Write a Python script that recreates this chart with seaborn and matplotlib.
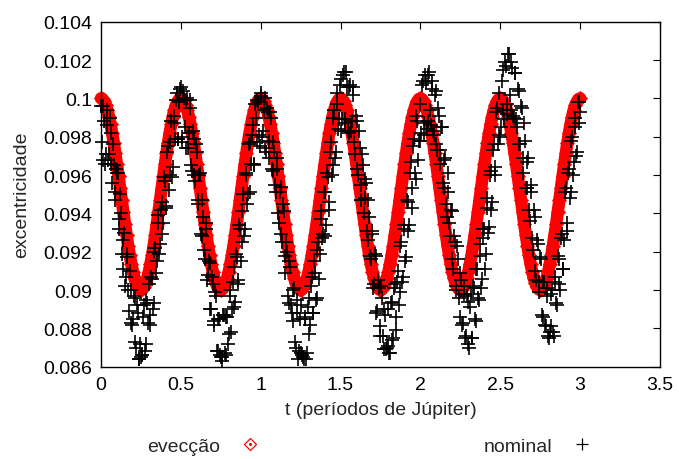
import numpy as np
import pandas as pd
import seaborn as sns
import matplotlib.pyplot as plt
from matplotlib.lines import Line2D
from matplotlib.legend_handler import HandlerTuple

# time axis, in Jupiter periods (one sample every 0.01)
t_start, t_end, n_samples = 0.0, 3.0, 301

# eccentricity with evection only (red diamonds)
eveccao = [
    0.10000, 0.09996, 0.09984, 0.09965, 0.09938, 0.09905, 0.09864, 0.09819, 0.09768, 0.09713,
    0.09655, 0.09594, 0.09531, 0.09469, 0.09406, 0.09345, 0.09287, 0.09232, 0.09181, 0.09136,
    0.09095, 0.09062, 0.09035, 0.09016, 0.09004, 0.09000, 0.09004, 0.09016, 0.09035, 0.09062,
    0.09095, 0.09136, 0.09181, 0.09232, 0.09287, 0.09345, 0.09406, 0.09469, 0.09531, 0.09594,
    0.09655, 0.09713, 0.09768, 0.09819, 0.09864, 0.09905, 0.09938, 0.09965, 0.09984, 0.09996,
    0.10000, 0.09996, 0.09984, 0.09965, 0.09938, 0.09905, 0.09864, 0.09819, 0.09768, 0.09713,
    0.09655, 0.09594, 0.09531, 0.09469, 0.09406, 0.09345, 0.09287, 0.09232, 0.09181, 0.09136,
    0.09095, 0.09062, 0.09035, 0.09016, 0.09004, 0.09000, 0.09004, 0.09016, 0.09035, 0.09062,
    0.09095, 0.09136, 0.09181, 0.09232, 0.09287, 0.09345, 0.09406, 0.09469, 0.09531, 0.09594,
    0.09655, 0.09713, 0.09768, 0.09819, 0.09864, 0.09905, 0.09938, 0.09965, 0.09984, 0.09996,
    0.10000, 0.09996, 0.09984, 0.09965, 0.09938, 0.09905, 0.09864, 0.09819, 0.09768, 0.09713,
    0.09655, 0.09594, 0.09531, 0.09469, 0.09406, 0.09345, 0.09287, 0.09232, 0.09181, 0.09136,
    0.09095, 0.09062, 0.09035, 0.09016, 0.09004, 0.09000, 0.09004, 0.09016, 0.09035, 0.09062,
    0.09095, 0.09136, 0.09181, 0.09232, 0.09287, 0.09345, 0.09406, 0.09469, 0.09531, 0.09594,
    0.09655, 0.09713, 0.09768, 0.09819, 0.09864, 0.09905, 0.09938, 0.09965, 0.09984, 0.09996,
    0.10000, 0.09996, 0.09984, 0.09965, 0.09938, 0.09905, 0.09864, 0.09819, 0.09768, 0.09713,
    0.09655, 0.09594, 0.09531, 0.09469, 0.09406, 0.09345, 0.09287, 0.09232, 0.09181, 0.09136,
    0.09095, 0.09062, 0.09035, 0.09016, 0.09004, 0.09000, 0.09004, 0.09016, 0.09035, 0.09062,
    0.09095, 0.09136, 0.09181, 0.09232, 0.09287, 0.09345, 0.09406, 0.09469, 0.09531, 0.09594,
    0.09655, 0.09713, 0.09768, 0.09819, 0.09864, 0.09905, 0.09938, 0.09965, 0.09984, 0.09996,
    0.10000, 0.09996, 0.09984, 0.09965, 0.09938, 0.09905, 0.09864, 0.09819, 0.09768, 0.09713,
    0.09655, 0.09594, 0.09531, 0.09469, 0.09406, 0.09345, 0.09287, 0.09232, 0.09181, 0.09136,
    0.09095, 0.09062, 0.09035, 0.09016, 0.09004, 0.09000, 0.09004, 0.09016, 0.09035, 0.09062,
    0.09095, 0.09136, 0.09181, 0.09232, 0.09287, 0.09345, 0.09406, 0.09469, 0.09531, 0.09594,
    0.09655, 0.09713, 0.09768, 0.09819, 0.09864, 0.09905, 0.09938, 0.09965, 0.09984, 0.09996,
    0.10000, 0.09996, 0.09984, 0.09965, 0.09938, 0.09905, 0.09864, 0.09819, 0.09768, 0.09713,
    0.09655, 0.09594, 0.09531, 0.09469, 0.09406, 0.09345, 0.09287, 0.09232, 0.09181, 0.09136,
    0.09095, 0.09062, 0.09035, 0.09016, 0.09004, 0.09000, 0.09004, 0.09016, 0.09035, 0.09062,
    0.09095, 0.09136, 0.09181, 0.09232, 0.09287, 0.09345, 0.09406, 0.09469, 0.09531, 0.09594,
    0.09655, 0.09713, 0.09768, 0.09819, 0.09864, 0.09905, 0.09938, 0.09965, 0.09984, 0.09996,
    0.10000,
]

# full (nominal) integration, black crosses, at t = 0.00, 0.01, ... 3.00
nominal = [
    0.0996, 0.0968, 0.0988, 0.0971, 0.0994, 0.0971, 0.0982, 0.0956, 0.0965, 0.0951,
    0.0961, 0.0937, 0.0950, 0.0919, 0.0926, 0.0902, 0.0917, 0.0900, 0.0910, 0.0883,
    0.0885, 0.0896, 0.0870, 0.0888, 0.0864, 0.0865, 0.0866, 0.0892, 0.0872, 0.0893,
    0.0903, 0.0887, 0.0906, 0.0893, 0.0922, 0.0915, 0.0939, 0.0924, 0.0946, 0.0935,
    0.0957, 0.0944, 0.0975, 0.0960, 0.0988, 0.0964, 0.0987, 0.0999, 0.0979, 0.0998,
    0.1006, 0.0980, 0.1000, 0.0974, 0.1000, 0.0982, 0.0995, 0.0962, 0.0979, 0.0957,
    0.0972, 0.0947, 0.0961, 0.0928, 0.0938, 0.0916, 0.0932, 0.0908, 0.0914, 0.0890,
    0.0903, 0.0884, 0.0897, 0.0868, 0.0885, 0.0865, 0.0863, 0.0887, 0.0866, 0.0886,
    0.0877, 0.0900, 0.0890, 0.0912, 0.0894, 0.0917, 0.0903, 0.0932, 0.0925, 0.0950,
    0.0932, 0.0960, 0.0950, 0.0977, 0.0966, 0.0986, 0.0965, 0.0990, 0.0999, 0.0981,
    0.1001, 0.0980, 0.0994, 0.0974, 0.0995, 0.0978, 0.0993, 0.0963, 0.0977, 0.0955,
    0.0969, 0.0940, 0.0951, 0.0929, 0.0945, 0.0918, 0.0925, 0.0897, 0.0915, 0.0892,
    0.0884, 0.0901, 0.0870, 0.0888, 0.0868, 0.0892, 0.0866, 0.0864, 0.0886, 0.0867,
    0.0896, 0.0882, 0.0907, 0.0888, 0.0909, 0.0896, 0.0925, 0.0919, 0.0941, 0.0929,
    0.0951, 0.0934, 0.0959, 0.0946, 0.0977, 0.0965, 0.0994, 0.0972, 0.0997, 0.0989,
    0.1010, 0.0989, 0.1014, 0.0987, 0.1006, 0.0982, 0.1007, 0.0988, 0.1002, 0.0971,
    0.0988, 0.0960, 0.0974, 0.0947, 0.0965, 0.0948, 0.0956, 0.0926, 0.0938, 0.0916,
    0.0929, 0.0903, 0.0918, 0.0889, 0.0901, 0.0876, 0.0896, 0.0869, 0.0887, 0.0870,
    0.0890, 0.0867, 0.0894, 0.0875, 0.0903, 0.0886, 0.0910, 0.0899, 0.0925, 0.0907,
    0.0934, 0.0917, 0.0946, 0.0934, 0.0967, 0.0953, 0.0979, 0.0958, 0.0988, 0.0978,
    0.0978, 0.1007, 0.0987, 0.1012, 0.0984, 0.1012, 0.0994, 0.1009, 0.0983, 0.1002,
    0.0976, 0.0995, 0.0973, 0.0985, 0.0956, 0.0968, 0.0945, 0.0961, 0.0935, 0.0942,
    0.0916, 0.0928, 0.0902, 0.0923, 0.0896, 0.0909, 0.0882, 0.0898, 0.0875, 0.0897,
    0.0872, 0.0891, 0.0875, 0.0902, 0.0885, 0.0911, 0.0896, 0.0918, 0.0901, 0.0927,
    0.0932, 0.0919, 0.0948, 0.0933, 0.0962, 0.0946, 0.0976, 0.0964, 0.0995, 0.0981,
    0.0980, 0.1009, 0.0994, 0.1019, 0.0992, 0.1023, 0.1002, 0.1019, 0.0991, 0.1013,
    0.0989, 0.1005, 0.0976, 0.0996, 0.0969, 0.0987, 0.0953, 0.0967, 0.0942, 0.0955,
    0.0927, 0.0942, 0.0910, 0.0926, 0.0904, 0.0917, 0.0887, 0.0904, 0.0882, 0.0897,
    0.0876, 0.0878, 0.0898, 0.0878, 0.0904, 0.0893, 0.0918, 0.0903, 0.0927, 0.0911,
    0.0926, 0.0953, 0.0935, 0.0963, 0.0951, 0.0980, 0.0967, 0.0990, 0.0972, 0.0998,
    0.0993,
]

# nominal integration, in-between outputs at t = 0.005, 0.015, ... 2.995
nominal_half = [
    0.0977, 0.0996, 0.0966, 0.0986, 0.0968, 0.0990, 0.0966, 0.0976, 0.0947, 0.0963,
    0.0961, 0.0932, 0.0940, 0.0911, 0.0930, 0.0907, 0.0919, 0.0889, 0.0900, 0.0882,
    0.0897, 0.0873, 0.0892, 0.0864, 0.0872, 0.0866, 0.0886, 0.0868, 0.0895, 0.0883,
    0.0882, 0.0907, 0.0890, 0.0920, 0.0909, 0.0935, 0.0919, 0.0942, 0.0929, 0.0959,
    0.0943, 0.0972, 0.0952, 0.0977, 0.0959, 0.0991, 0.0979, 0.1003, 0.0979, 0.1005,
    0.0977, 0.1004, 0.0985, 0.0999, 0.0974, 0.0999, 0.0965, 0.0983, 0.0960, 0.0976,
    0.0945, 0.0960, 0.0929, 0.0947, 0.0921, 0.0935, 0.0905, 0.0915, 0.0890, 0.0907,
    0.0882, 0.0899, 0.0868, 0.0885, 0.0866, 0.0865, 0.0887, 0.0867, 0.0886, 0.0872,
    0.0897, 0.0878, 0.0904, 0.0891, 0.0919, 0.0905, 0.0934, 0.0915, 0.0941, 0.0928,
    0.0961, 0.0945, 0.0976, 0.0951, 0.0981, 0.0966, 0.0997, 0.0977, 0.0998, 0.0975,
    0.1003, 0.0983, 0.1000, 0.0972, 0.0993, 0.0969, 0.0990, 0.0962, 0.0972, 0.0951,
    0.0963, 0.0935, 0.0954, 0.0925, 0.0941, 0.0909, 0.0920, 0.0893, 0.0912, 0.0888,
    0.0900, 0.0873, 0.0895, 0.0864, 0.0885, 0.0867, 0.0865, 0.0885, 0.0864, 0.0891,
    0.0877, 0.0902, 0.0888, 0.0915, 0.0895, 0.0921, 0.0906, 0.0937, 0.0927, 0.0951,
    0.0928, 0.0961, 0.0942, 0.0972, 0.0960, 0.0990, 0.0969, 0.1003, 0.0984, 0.1007,
    0.0983, 0.1012, 0.0989, 0.1014, 0.0983, 0.1006, 0.0983, 0.1006, 0.0977, 0.0991,
    0.0963, 0.0983, 0.0955, 0.0971, 0.0940, 0.0958, 0.0931, 0.0947, 0.0918, 0.0931,
    0.0901, 0.0919, 0.0888, 0.0905, 0.0881, 0.0902, 0.0876, 0.0890, 0.0869, 0.0871,
    0.0867, 0.0893, 0.0874, 0.0901, 0.0879, 0.0904, 0.0892, 0.0923, 0.0904, 0.0932,
    0.0915, 0.0947, 0.0931, 0.0961, 0.0943, 0.0975, 0.0961, 0.0991, 0.0968, 0.0997,
    0.0982, 0.1009, 0.0981, 0.1008, 0.0988, 0.1014, 0.0986, 0.1005, 0.0981, 0.1004,
    0.0973, 0.0991, 0.0966, 0.0985, 0.0953, 0.0969, 0.0938, 0.0951, 0.0928, 0.0941,
    0.0911, 0.0925, 0.0900, 0.0916, 0.0886, 0.0905, 0.0883, 0.0902, 0.0876, 0.0894,
    0.0870, 0.0898, 0.0875, 0.0901, 0.0884, 0.0911, 0.0895, 0.0924, 0.0906, 0.0932,
    0.0911, 0.0943, 0.0930, 0.0960, 0.0942, 0.0973, 0.0960, 0.0993, 0.0976, 0.1003,
    0.0985, 0.1015, 0.0989, 0.1017, 0.0997, 0.1023, 0.0994, 0.1016, 0.0990, 0.1013,
    0.0985, 0.1004, 0.0976, 0.0995, 0.0961, 0.0978, 0.0953, 0.0969, 0.0936, 0.0951,
    0.0921, 0.0938, 0.0905, 0.0924, 0.0899, 0.0916, 0.0886, 0.0904, 0.0881, 0.0901,
    0.0875, 0.0881, 0.0900, 0.0876, 0.0907, 0.0892, 0.0916, 0.0900, 0.0929, 0.0911,
    0.0951, 0.0931, 0.0961, 0.0948, 0.0978, 0.0960, 0.0985, 0.0970, 0.0998, 0.0987,
]

x_ticks = [0, 0.5, 1, 1.5, 2, 2.5, 3, 3.5]
x_tick_labels = ['0', '0.5', '1', '1.5', '2', '2.5', '3', '3.5']
y_ticks = [0.086, 0.088, 0.090, 0.092, 0.094, 0.096, 0.098, 0.100, 0.102, 0.104]
y_tick_labels = ['0.086', '0.088', '0.09', '0.092', '0.094', '0.096',
                 '0.098', '0.1', '0.102', '0.104']


def build_frames():
    t = np.linspace(t_start, t_end, n_samples)
    step = t[1] - t[0]
    t_half = t[:-1] + step / 2
    red = pd.DataFrame({'t': t, 'e': eveccao})
    black = pd.concat([pd.DataFrame({'t': t, 'e': nominal}),
                       pd.DataFrame({'t': t_half, 'e': nominal_half})])
    return red, black.sort_values('t')


def create_plot(red, black):
    sns.set_style('white')
    plt.rcParams['font.family'] = ['Liberation Sans', 'DejaVu Sans']

    fig = plt.figure(figsize=(6.79, 4.60), dpi=100)
    ax = fig.add_axes([0.1487, 0.2007, 0.8233, 0.75])

    # red band of diamonds (line underneath fills the gaps between samples)
    sns.lineplot(data=red, x='t', y='e', ax=ax, color='red',
                 linewidth=9, marker='D', markersize=7.5, markeredgecolor='red',
                 markerfacecolor='red', markeredgewidth=0.6, clip_on=False,
                 solid_joinstyle='round', solid_capstyle='round', zorder=2)
    sns.scatterplot(data=black, x='t', y='e', ax=ax, marker='+',
                    color='black', s=95, linewidth=1.2, clip_on=False,
                    zorder=3)

    ax.set_xlim(0, 3.5)
    ax.set_ylim(0.086, 0.104)
    ax.set_xticks(x_ticks)
    ax.set_xticklabels(x_tick_labels)
    ax.set_yticks(y_ticks)
    ax.set_yticklabels(y_tick_labels)
    ax.tick_params(direction='in', length=5, width=0.8, top=True, right=True,
                   labelsize=14, pad=6.5, colors='black')
    for side in ax.spines.values():
        side.set_color('black')
        side.set_linewidth(1.0)

    ax.set_xlabel('t (períodos de Júpiter)', fontsize=14, labelpad=6)
    ax.set_ylabel('excentricidade', fontsize=14, labelpad=9)

    # gnuplot-like key below the plot: label first, sample after
    diamond = Line2D([], [], linestyle='none', marker='D', markersize=6.5,
                     markerfacecolor='none', markeredgecolor='red',
                     markeredgewidth=0.9)
    dot = Line2D([], [], linestyle='none', marker='o', markersize=1.2,
                 color='red')
    plus = Line2D([], [], linestyle='none', marker='+', markersize=9.2,
                  markeredgewidth=0.9, color='black')
    fig.legend(handles=[(diamond, dot), plus], labels=['evecção', 'nominal'],
               handler_map={tuple: HandlerTuple(ndivide=1, pad=0)},
               ncol=2, markerfirst=False, frameon=False, fontsize=14,
               loc='center', bbox_to_anchor=(0.551, 0.028),
               handlelength=2, handletextpad=0.54, columnspacing=11)

    fig.savefig('out.png', dpi=100)


def main():
    red, black = build_frames()
    create_plot(red, black)


if __name__ == "__main__":
    main()
